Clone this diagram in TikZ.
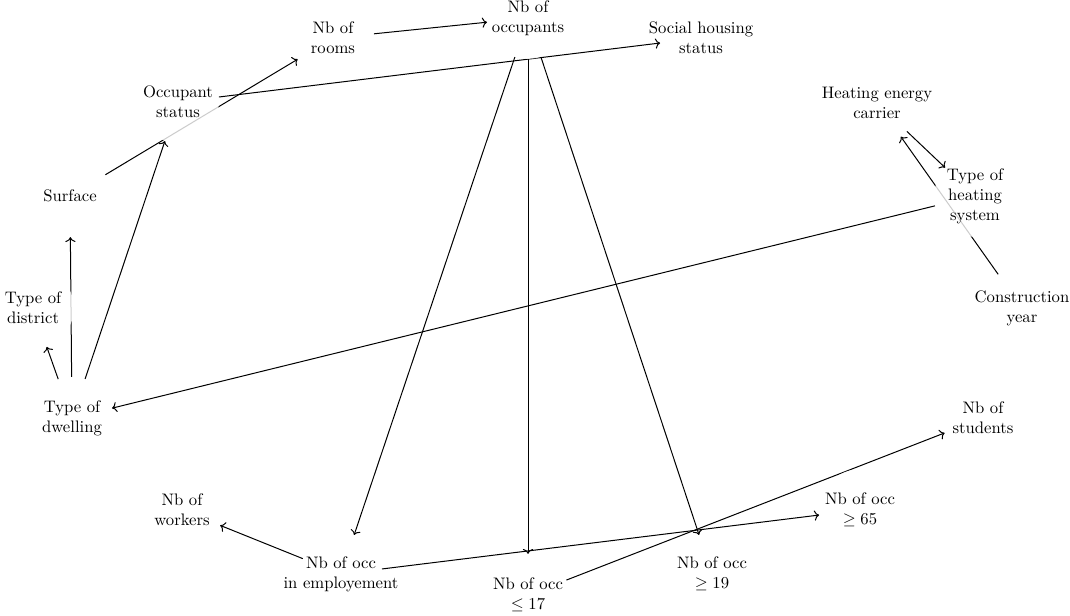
\documentclass[tikz,border=0pt]{standalone}
\usetikzlibrary{arrows.meta}
\pgfdeclarelayer{background}
\pgfsetlayers{background,main}
\tikzset{
  var/.style={
    circle, minimum size=49pt, inner sep=0pt,
    fill=white, fill opacity=0.8,
    label={[align=center, text opacity=1, fill opacity=1]center:#1}
  },
  arrow/.style={->, semithick, draw=black},
}
\begin{document}
\begin{tikzpicture}[x=0.6pt, y=-0.6pt]
\useasboundingbox (0,0) rectangle (1070,615);

% --- Household variables ---
\node[var={Nb of\\rooms}] (rooms) at (333,38) {};
\node[var={Nb of\\occupants}] (occupants) at (528,18) {};
\node[var={Social housing\\status}] (social) at (701,38) {};
\node[var={Occupant\\status}] (occstatus) at (178,102) {};
\node[var={Surface}] (surface) at (70,196) {};
\node[var={Type of\\district}] (district) at (33,308) {};
\node[var={Type of\\dwelling}] (dwelling) at (72,418) {};

% --- Heating variables ---
\node[var={Heating energy\\carrier}] (heatcarrier) at (877,103) {};
\node[var={Type of\\heating\\system}] (heatsys) at (975,196) {};
\node[var={Construction\\year}] (construction) at (1022,308) {};

% --- Occupant counts ---
\node[var={Nb of\\students}] (students) at (983,418) {};
\node[var={Nb of\\workers}] (workers) at (182,510) {};
\node[var={Nb of occ\\$\geq 65$}] (occ65) at (860,510) {};
\node[var={Nb of occ\\in employement}] (employed) at (341,574) {};
\node[var={Nb of occ\\$\geq 19$}] (occ19) at (712,574) {};
\node[var={Nb of occ\\$\leq 17$}] (occ17) at (528,595) {};

\begin{pgfonlayer}{background}
% --- Dwelling edges ---
\draw[arrow] (dwelling) -- (district);
\draw[arrow] (dwelling) -- (surface);
\draw[arrow] (dwelling) -- (occstatus);
\draw[arrow] (surface) -- (rooms);
\draw[arrow] (rooms) -- (occupants);
\draw[arrow] (occstatus) -- (social);

% --- Heating edges ---
\draw[arrow] (heatcarrier) -- (heatsys);
\draw[arrow] (construction) -- (heatcarrier);
\draw[arrow] (heatsys) -- (dwelling);

% --- Occupant edges ---
\draw[arrow] (occupants) -- (employed);
\draw[arrow] (occupants) -- (occ17);
\draw[arrow] (occupants) -- (occ19);
\draw[arrow] (employed) -- (workers);
\draw[arrow] (employed) -- (occ65);
\draw[arrow] (occ17) -- (students);
\end{pgfonlayer}

\end{tikzpicture}
\end{document}
